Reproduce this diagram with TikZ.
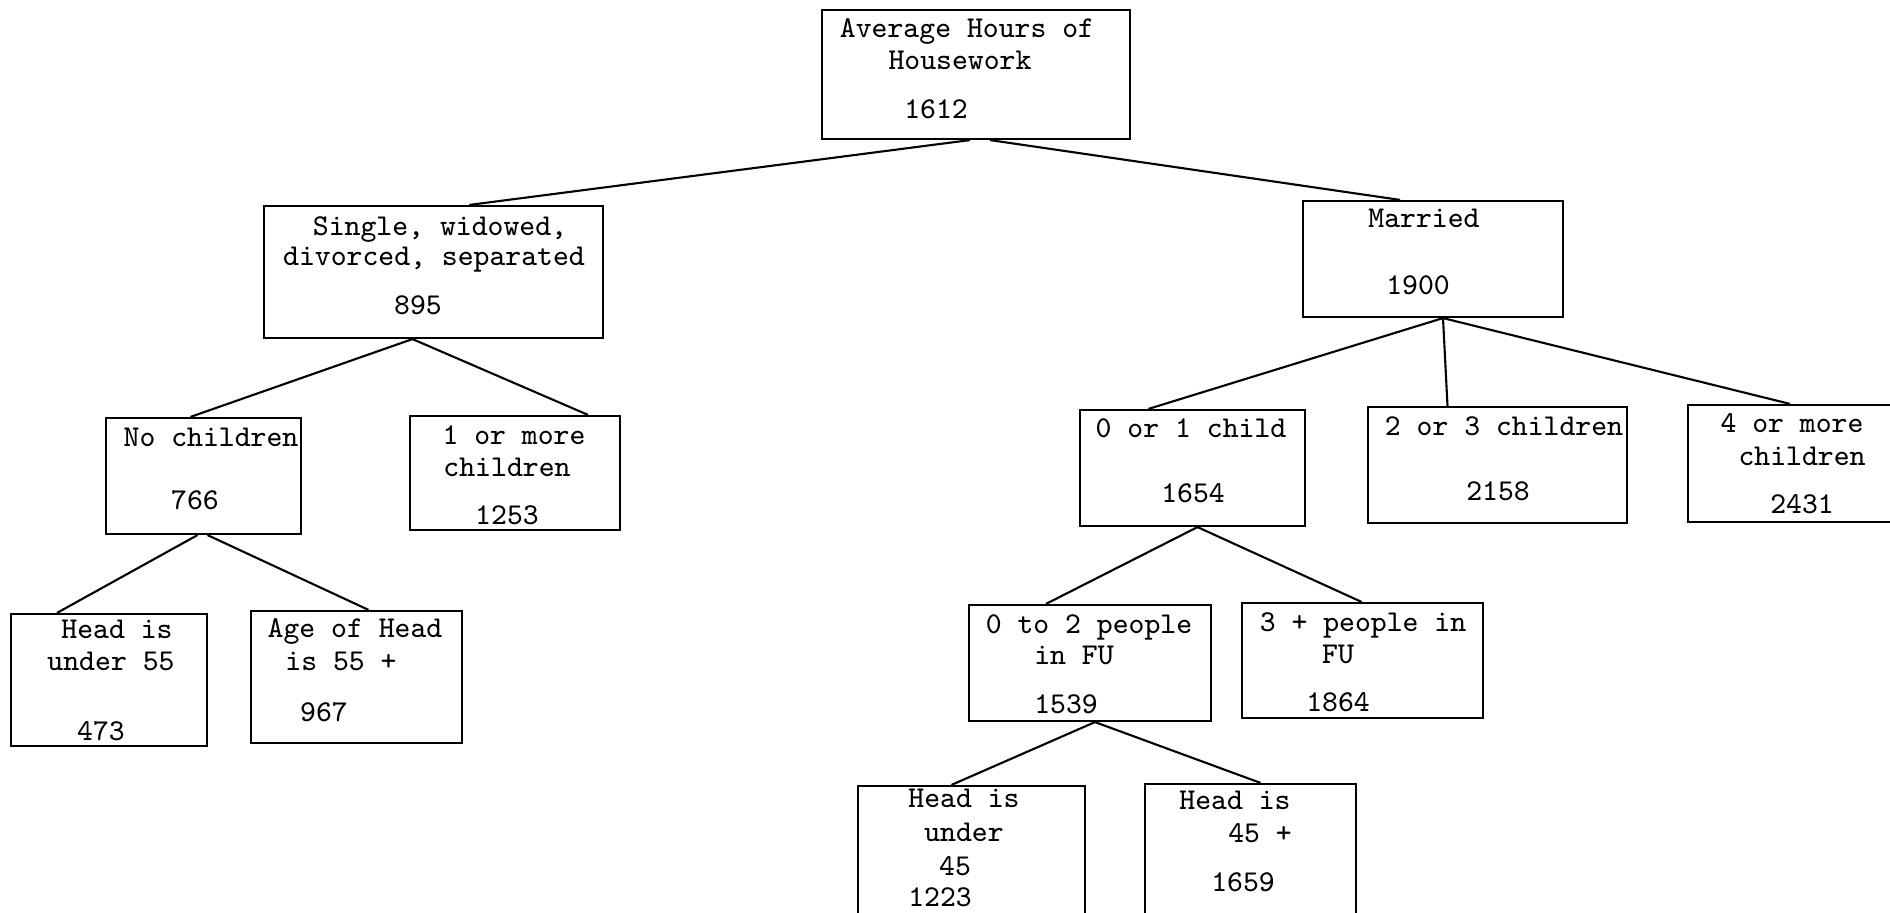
\documentclass[tikz,border=0pt]{standalone}
\usetikzlibrary{calc}
\tikzset{
  box/.style={draw, line width=0.6pt, inner sep=0pt},
  lbl/.style={font=\ttfamily\fontsize{8.6}{10}\selectfont, inner sep=0pt, anchor=base},
  link/.style={line width=0.6pt}
}
\begin{document}
\begin{tikzpicture}[x=0.01cm, y=-0.01cm]
        \useasboundingbox (0,0) rectangle (1890,913);
        % boxes
        \node[box, minimum width=3.08cm, minimum height=1.29cm] (root) at (976,74.5) {};
        \node[box, minimum width=3.39cm, minimum height=1.32cm] (single) at (433.5,272) {};
        \node[box, minimum width=2.60cm, minimum height=1.16cm] (married) at (1433,259) {};
        \node[box, minimum width=1.95cm, minimum height=1.16cm] (nochild) at (203.5,476) {};
        \node[box, minimum width=2.10cm, minimum height=1.14cm] (onemore) at (515,473) {};
        \node[box, minimum width=2.25cm, minimum height=1.16cm] (zeroone) at (1192.5,468) {};
        \node[box, minimum width=2.59cm, minimum height=1.16cm] (twothree) at (1497.5,465) {};
        \node[box, minimum width=2.12cm, minimum height=1.17cm] (fourmore) at (1794,463.5) {};
        \node[box, minimum width=1.96cm, minimum height=1.32cm] (under55) at (109,680) {};
        \node[box, minimum width=2.11cm, minimum height=1.32cm] (age55) at (356.5,677) {};
        \node[box, minimum width=2.42cm, minimum height=1.16cm] (zerotwo) at (1090,663) {};
        \node[box, minimum width=2.41cm, minimum height=1.15cm] (threeplus) at (1362.5,660.5) {};
        \node[box, minimum width=2.27cm, minimum height=1.44cm] (under45) at (971.5,858) {};
        \node[box, minimum width=2.11cm, minimum height=1.46cm] (over45) at (1250.5,857) {};
        % texts
        \node[lbl] (root-a) at (967,38) {Average Hours of};
        \node[lbl] (root-b) at (960,70) {Housework};
        \node[lbl] (root-n) at (936,119) {1612};
        \node[lbl] (single-a) at (440,236) {Single, widowed,};
        \node[lbl] (single-b) at (434,266) {divorced, separated};
        \node[lbl] (single-n) at (418,315) {895};
        \node[lbl] (married-a) at (1424,228) {Married};
        \node[lbl] (married-n) at (1418,295) {1900};
        \node[lbl] (nochild-a) at (211,447) {No children};
        \node[lbl] (nochild-n) at (195,510) {766};
        \node[lbl] (onemore-a) at (514,445) {1 or more};
        \node[lbl] (onemore-b) at (507,477) {children};
        \node[lbl] (onemore-n) at (507,525) {1253};
        \node[lbl] (under55-a) at (117,639) {Head is};
        \node[lbl] (under55-b) at (111,671) {under 55};
        \node[lbl] (under55-n) at (101,741) {473};
        \node[lbl] (age55-a) at (355,638) {Age of Head};
        \node[lbl] (age55-b) at (341,671) {is 55 +};
        \node[lbl] (age55-n) at (324,722) {967};
        \node[lbl] (zeroone-a) at (1191,438) {0 or 1 child};
        \node[lbl] (zeroone-n) at (1193,503) {1654};
        \node[lbl] (twothree-a) at (1504,436) {2 or 3 children};
        \node[lbl] (twothree-n) at (1498,501) {2158};
        \node[lbl] (fourmore-a) at (1792,433) {4 or more};
        \node[lbl] (fourmore-b) at (1802,466) {children};
        \node[lbl] (fourmore-n) at (1802,514) {2431};
        \node[lbl] (zerotwo-a) at (1089,634) {0 to 2 people};
        \node[lbl] (zerotwo-b) at (1074,665) {in FU};
        \node[lbl] (zerotwo-n) at (1066,714) {1539};
        \node[lbl] (threeplus-a) at (1363,632) {3 + people in};
        \node[lbl] (threeplus-b) at (1338,664) {FU};
        \node[lbl] (threeplus-n) at (1338,712) {1864};
        \node[lbl] (under45-a) at (964,808) {Head is};
        \node[lbl] (under45-b) at (964,842) {under};
        \node[lbl] (under45-c) at (955,876) {45};
        \node[lbl] (under45-n) at (940,907) {1223};
        \node[lbl] (over45-a) at (1235,810) {Head is};
        \node[lbl] (over45-b) at (1260,843) {45 +};
        \node[lbl] (over45-n) at (1243,892) {1659};
        % connectors
        \draw[link] ($(root.south)+(-6,0)$) -- ($(single.north)+(36,0)$);
        \draw[link] ($(root.south)+(14,0)$) -- ($(married.north)+(-33,0)$);
        \draw[link] ($(single.south)+(-21,0)$) -- ($(nochild.north)+(-13,0)$);
        \draw[link] ($(single.south)+(-21,0)$) -- ($(onemore.north)+(73,0)$);
        \draw[link] ($(nochild.south)+(-6,0)$) -- ($(under55.north)+(-52,0)$);
        \draw[link] ($(nochild.south)+(4,0)$) -- ($(age55.north)+(12,0)$);
        \draw[link] ($(married.south)+(10,0)$) -- ($(zeroone.north)+(-44,0)$);
        \draw[link] ($(married.south)+(10,0)$) -- ($(twothree.north)+(-50,0)$);
        \draw[link] ($(married.south)+(10,0)$) -- ($(fourmore.north)+(-4,0)$);
        \draw[link] ($(zeroone.south)+(5,0)$) -- ($(zerotwo.north)+(-44,0)$);
        \draw[link] ($(zeroone.south)+(5,0)$) -- ($(threeplus.north)+(-1,0)$);
        \draw[link] ($(zerotwo.south)+(5,0)$) -- ($(under45.north)+(-20,0)$);
        \draw[link] ($(zerotwo.south)+(5,0)$) -- ($(over45.north)+(10,0)$);
\end{tikzpicture}
\end{document}
